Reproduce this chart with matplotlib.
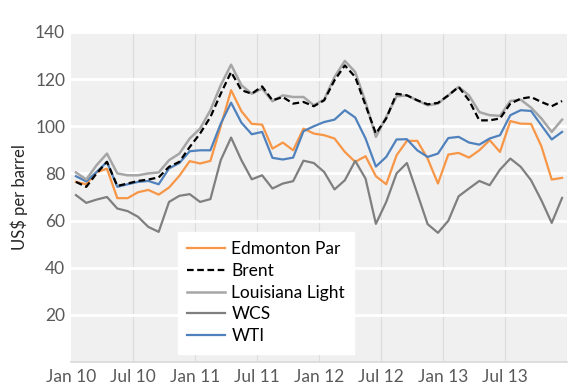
import numpy as np
import matplotlib
matplotlib.use('Agg')
import matplotlib.pyplot as plt

# monthly prices, Jan 2010 .. Dec 2013 (US$ per barrel)
months = [f"{m} {y}" for y in range(10, 14) for m in
          ["Jan", "Feb", "Mar", "Apr", "May", "Jun", "Jul", "Aug", "Sep", "Oct", "Nov", "Dec"]]

edmonton = [76.4, 75.4, 80.5, 82.0, 69.5, 69.5, 72.0, 73.0, 71.0, 74.0, 79.0, 85.2,
            84.2, 85.3, 100.0, 115.3, 106.4, 101.0, 100.7, 90.5, 93.1, 89.8, 99.0, 96.9,
            96.2, 94.8, 89.1, 84.9, 87.3, 78.8, 75.4, 87.7, 93.8, 93.8, 86.3, 75.7,
            88.0, 88.7, 86.7, 89.8, 94.1, 89.1, 102.2, 101.1, 101.0, 91.5, 77.4, 78.1]
brent = [76.4, 74.3, 80.0, 84.9, 74.7, 75.7, 76.8, 77.4, 78.3, 82.8, 84.9, 91.2,
         96.9, 103.9, 113.8, 123.0, 115.3, 113.8, 116.9, 111.0, 112.4, 109.6, 110.3, 108.5,
         111.0, 119.5, 125.8, 120.9, 108.9, 96.9, 103.3, 113.8, 113.1, 111.0, 109.3, 109.9,
         113.1, 116.7, 111.0, 102.5, 102.5, 103.3, 109.6, 111.7, 112.4, 110.3, 108.5, 110.7]
louisiana = [80.4, 77.4, 83.5, 88.4, 80.0, 79.2, 79.2, 80.0, 80.4, 85.6, 88.4, 94.8,
             99.0, 106.8, 117.4, 126.1, 117.4, 113.8, 116.0, 110.6, 113.1, 112.4, 112.4, 108.9,
             111.3, 120.9, 127.7, 123.0, 110.3, 95.5, 103.9, 112.7, 113.1, 111.0, 108.9, 109.6,
             113.1, 116.7, 113.1, 106.0, 104.7, 104.4, 110.7, 111.3, 107.9, 103.3, 97.6, 102.8]
wcs = [70.8, 67.5, 68.9, 70.0, 65.1, 64.0, 61.6, 57.3, 55.2, 67.9, 70.5, 71.2,
       67.9, 69.1, 85.6, 95.2, 85.6, 77.5, 79.2, 73.6, 75.7, 76.7, 85.4, 84.4,
       80.6, 73.2, 77.1, 85.3, 77.8, 58.6, 67.9, 80.0, 84.4, 71.5, 58.5, 54.8,
       59.9, 70.3, 73.6, 76.8, 75.0, 81.6, 86.3, 82.8, 77.1, 68.6, 59.0, 69.6]
wti = [78.8, 76.6, 80.6, 84.9, 74.3, 75.4, 76.4, 76.8, 75.4, 82.1, 84.4, 89.4,
       89.8, 89.8, 101.1, 110.0, 101.5, 96.6, 97.6, 86.6, 85.9, 86.7, 97.9, 100.0,
       101.8, 102.8, 106.8, 103.7, 94.8, 82.9, 87.0, 94.4, 94.5, 89.8, 87.0, 88.4,
       95.0, 95.5, 93.1, 92.2, 94.8, 96.2, 104.7, 106.8, 106.5, 100.4, 94.4, 97.6]

tick_labels = ["Jan 10", "Jul 10", "Jan 11", "Jul 11", "Jan 12", "Jul 12", "Jan 13", "Jul 13"]

plt.rcParams['font.family'] = ['Lato', 'DejaVu Sans']

fig = plt.figure(figsize=(5.8, 3.92), dpi=100)
ax = fig.add_axes([0.122, 0.0765, 0.856, 0.842])
ax.set_facecolor('#f0f0f0')

x = np.arange(len(months)) + 0.5
ax.plot(x, edmonton, color='#f79646', lw=1.6, label='Edmonton Par', zorder=3)
ax.plot(x, brent, color='black', lw=1.6, ls=(0, (3, 1.6)), label='Brent', zorder=5)
ax.plot(x, louisiana, color='#a6a6a6', lw=1.8, label='Louisiana Light', zorder=4)
ax.plot(x, wcs, color='#7f7f7f', lw=1.6, label='WCS', zorder=3)
ax.plot(x, wti, color='#4f81bd', lw=1.6, label='WTI', zorder=3)

ax.set_xlim(0, 48)
ax.set_ylim(0, 140)
ax.set_xticks(np.arange(0, 48, 6))
ax.set_xticklabels(tick_labels)
ax.set_yticks(np.arange(20, 141, 20))

for v in range(20, 141, 20):
    ax.axhline(v, color='white', lw=2, zorder=1)
for v in range(6, 49, 6):
    ax.axvline(v, color='#dcdcdc', lw=0.8, zorder=0.5)

for s in ['top', 'right', 'left']:
    ax.spines[s].set_visible(False)
ax.spines['bottom'].set_color('#d9d9d9')
ax.spines['bottom'].set_linewidth(1.2)
ax.tick_params(axis='both', length=0, colors='#595959', labelsize=12.5)
ax.tick_params(axis='x', pad=5)
ax.tick_params(axis='y', pad=4)

ax.set_ylabel('US$ per barrel', fontsize=12, color='#262626', labelpad=5)

leg = ax.legend(loc='lower left', bbox_to_anchor=(0.215, 0.025), frameon=True,
                fancybox=False, fontsize=12.5, handlelength=2.2, handletextpad=0.35,
                labelspacing=0.33, borderpad=0.55, borderaxespad=0)
leg.get_frame().set_facecolor('white')
leg.get_frame().set_edgecolor('white')
leg.get_frame().set_alpha(1)

fig.savefig('out.png', dpi=100)
